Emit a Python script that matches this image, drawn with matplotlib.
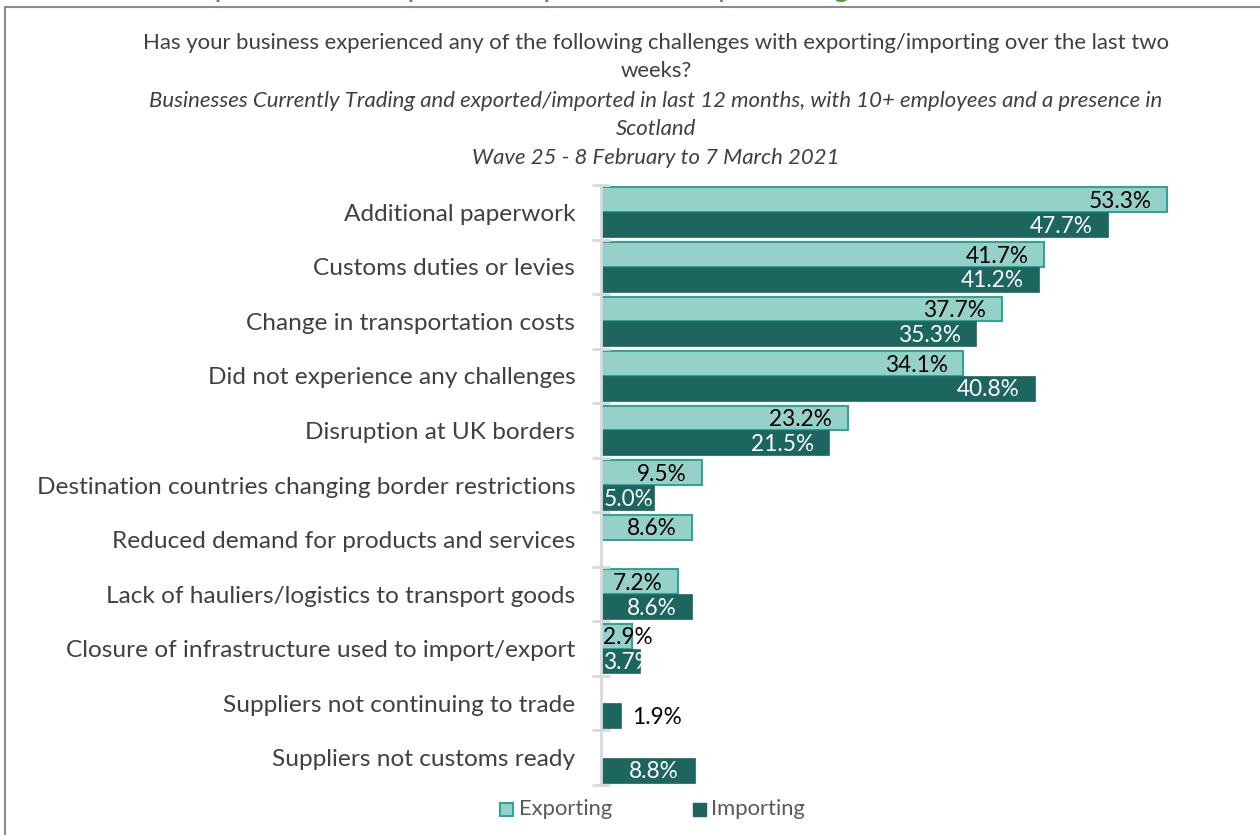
import numpy as np
import matplotlib.pyplot as plt
from matplotlib.patches import Rectangle

plt.rcParams['font.family'] = ['Lato', 'DejaVu Sans']

kategorie = ['Additional paperwork', 'Customs duties or levies', 'Change in transportation costs',
             'Did not experience any challenges', 'Disruption at UK borders',
             'Destination countries changing border restrictions',
             'Reduced demand for products and services',
             'Lack of hauliers/logistics to transport goods',
             'Closure of infrastructure used to import/export',
             'Suppliers not continuing to trade', 'Suppliers not customs ready']
eksport = [53.3, 41.7, 37.7, 34.1, 23.2, 9.5, 8.6, 7.2, 2.9, np.nan, np.nan]
import_ = [47.7, 41.2, 35.3, 40.8, 21.5, 5.0, np.nan, 8.6, 3.7, 1.9, 8.8]

kol_jasny = '#96D1C9'
kol_krawedz = '#2FA597'
kol_ciemny = '#1C665F'
szary = '#404040'

fig = plt.figure(figsize=(12.6, 8.35), dpi=100)
ax = fig.add_axes([601/1260, 1 - 785/835, 610/1260, 600/835])

y = np.arange(len(kategorie))
h = 0.455
pad = 1.45
fs_lab = 16.3

for i, (e, m) in enumerate(zip(eksport, import_)):
    if not np.isnan(e):
        ax.barh(y[i] - h/2, e, height=h, color=kol_jasny, edgecolor=kol_krawedz, linewidth=1.5)
        xr = max(e - pad, 4.9)
        ax.text(xr, y[i] - h/2 + 0.03, f'{e:.1f}%', ha='right', va='center', fontsize=fs_lab, color='black')
    if not np.isnan(m):
        b = ax.barh(y[i] + h/2, m, height=h, color=kol_ciemny, edgecolor=kol_ciemny, linewidth=0.5)
        if m < 3:
            ax.text(m + 1.0, y[i] + h/2 + 0.03, f'{m:.1f}%', ha='left', va='center', fontsize=fs_lab, color='black')
        else:
            xr = max(m - pad, 4.9)
            t = ax.text(xr, y[i] + h/2 + 0.03, f'{m:.1f}%', ha='right', va='center', fontsize=fs_lab, color='white')
            t.set_clip_path(b.patches[0])

ax.set_xlim(0, 57.4)
ax.set_ylim(len(kategorie) - 0.5, -0.5)
ax.set_xticks([])
ax.set_yticks(y)
ax.set_yticklabels(kategorie, fontsize=17.6, color=szary)
ax.tick_params(axis='y', which='major', length=0, pad=18.5)
ax.set_yticks(np.arange(len(kategorie) + 1) - 0.5, minor=True)
ax.tick_params(axis='y', which='minor', length=13, direction='inout', color='#D9D9D9', width=2)
for s in ['top', 'right', 'bottom']:
    ax.spines[s].set_visible(False)
ax.spines['left'].set_color('#D9D9D9')
ax.spines['left'].set_linewidth(2)

# tytuly
fs_t = 15.9
fig.text(656/1260, 1 - 43/835, 'Has your business experienced any of the following challenges with exporting/importing over the last two',
         ha='center', va='center', fontsize=fs_t, color=szary)
fig.text(656/1260, 1 - 71/835, 'weeks?', ha='center', va='center', fontsize=fs_t, color=szary)
fig.text(656/1260, 1 - 101/835, 'Businesses Currently Trading and exported/imported in last 12 months, with 10+ employees and a presence in',
         ha='center', va='center', fontsize=fs_t, color=szary, style='italic')
fig.text(656/1260, 1 - 129/835, 'Scotland', ha='center', va='center', fontsize=fs_t, color=szary, style='italic')
fig.text(656/1260, 1 - 158/835, 'Wave 25 - 8 February to 7 March 2021', ha='center', va='center', fontsize=fs_t,
         color=szary, style='italic')

# obciety zielony naglowek (w oryginale widac tylko dol liter)
fig.text(5/1260, 1 + 3/835, 'and whether importers and exporters experienced any challenges', ha='left',
         va='baseline', fontsize=22, color='#4E9A2E')

# ramka
fig.patches.append(Rectangle((5/1260, -0.01), 1.1, 1 - 7/835 + 0.01, transform=fig.transFigure,
                             fill=False, edgecolor='#8C8C8C', linewidth=1.5))

# legenda
fig.patches.append(Rectangle((500/1260, 1 - 816/835), 13/1260, 13/835, transform=fig.transFigure,
                             facecolor=kol_jasny, edgecolor=kol_krawedz, linewidth=1.5))
fig.text(519/1260, 1 - 809/835, 'Exporting', ha='left', va='center', fontsize=15.8, color='#595959')
fig.patches.append(Rectangle((693/1260, 1 - 816/835), 13/1260, 13/835, transform=fig.transFigure,
                             facecolor=kol_ciemny, edgecolor=kol_ciemny, linewidth=1.0))
fig.text(711/1260, 1 - 809/835, 'Importing', ha='left', va='center', fontsize=15.8, color='#595959')

fig.savefig('out.png', dpi=100, facecolor='white')
